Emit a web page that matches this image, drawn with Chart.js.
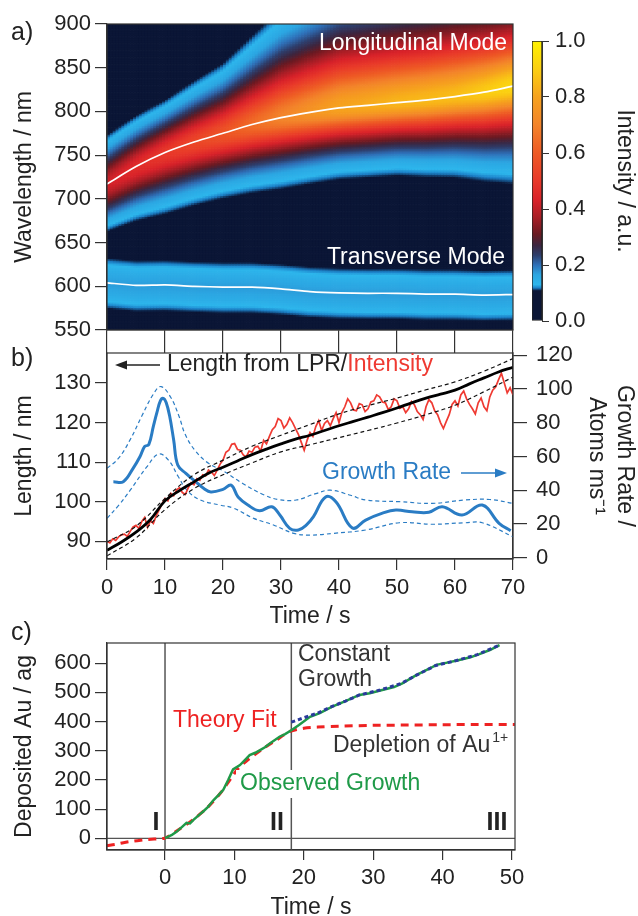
<!DOCTYPE html>
<html>
<head>
<meta charset="utf-8">
<script src="https://cdn.jsdelivr.net/npm/chart.js@4.4.1/dist/chart.umd.min.js"></script>
<style>
  body { margin: 0; background: #fff; width: 638px; height: 916px; overflow: hidden; position: relative; }
  canvas { position: absolute; left: 0; }
  .tag { position: absolute; left: 11px; font: 25px "Liberation Sans", Arial, sans-serif; color: #222; }
</style>
</head>
<body>
<canvas id="chartA" width="638" height="355" style="top:0"></canvas>
<canvas id="chartBar" width="638" height="355" style="top:0"></canvas>
<canvas id="chartB" width="638" height="300" style="top:330px"></canvas>
<canvas id="chartC" width="638" height="325" style="top:600px"></canvas>
<div class="tag" style="top:17px">a)</div>
<div class="tag" style="top:343px">b)</div>
<div class="tag" style="top:617px">c)</div>
<script>
// ---------- dados ----------
const timeTicks = [0, 10, 20, 30, 40, 50, 60, 70];
const wlTicks = [550, 600, 650, 700, 750, 800, 850, 900];
const intensityTicks = [0, 0.2, 0.4, 0.6, 0.8, 1.0];

// a) posição dos picos (linhas brancas), lida a cada 5 s
const peakTimes = [0, 5, 10, 15, 20, 25, 30, 35, 40, 45, 50, 55, 60, 65, 70];
const longPeak = [717, 737, 753, 765, 775, 785, 793, 799, 804, 807, 810, 813, 817, 822, 829];
const transPeak = [604, 601, 601.5, 600, 599, 599, 597, 594, 592.5, 592, 592, 591, 591, 590, 590.5];
// forma da banda longitudinal, lida a cada 10 s
const bandTimes = [0, 10, 20, 30, 40, 50, 60, 70];
const longAmp = [0.42, 0.5, 0.58, 0.7, 0.8, 0.84, 0.86, 0.92];
const longWidthLo = [31.6, 36.6, 35.3, 34.6, 32, 31.8, 34.9, 40.6];
const longWidthHi = [33.4, 31.9, 38.7, 53.5, 60, 60, 60, 54];
const transAmp = 0.17;
const transWidth = 38;

// b) comprimento pelo LPR (nm)
const lengthTimes = [0, 2.5, 5, 7.5, 10, 12.5, 15, 17.5, 20, 22.5, 25, 27.5, 30, 32.5, 35, 37.5, 40, 42.5, 45, 47.5, 50, 52.5, 55, 57.5, 60, 62.5, 65, 67.5, 70];
const lengthLPR = [87.7, 89.8, 92.3, 95.5, 100.2, 102.8, 105, 107.2, 108.7, 110.3, 111.9, 113.3, 114.6, 115.8, 116.8, 118, 119.2, 120.3, 121.4, 122.5, 123.7, 125, 126.2, 127.2, 128.2, 129.8, 131.3, 132.8, 134];
const boundTimes = [0, 5, 10, 15, 20, 25, 30, 35, 40, 45, 50, 55, 60, 65, 70];
const lengthUpper = [89.8, 93.8, 100.8, 106.8, 110.5, 114, 116.8, 119.5, 122.2, 124.3, 126.2, 128.3, 130.3, 133, 136.2];
const lengthLower = [86.3, 90.8, 98, 103.3, 106.8, 109.8, 112.6, 114.4, 116.2, 118, 119.9, 122, 124.4, 127.8, 131.5];
// comprimento pela intensidade, a cada 0,5 s
const intensityLength = [
  90, 89.6, 90.6, 90.2, 91.1, 91.6, 91.8, 91.2, 92.5, 93.6,
  94, 93.2, 95, 96, 93.5, 95.2, 94.5, 96.5, 98, 99.5,
  100.8, 100.2, 102.1, 101.5, 103, 103.5, 102.3, 101.8, 103.5, 104.8,
  104.3, 105.8, 105.4, 106.8, 106.5, 108, 107.5, 106.6, 108, 109.5,
  110.5, 112.5, 113, 114.5, 114.7, 113.2, 113, 111.8, 111.3, 112.8,
  112.5, 113.8, 114, 112.8, 115.5, 114.6, 116.5, 118.2, 119, 121,
  120.5, 118.6, 119.5, 121.2, 120, 118.5, 117, 115, 113, 115.5,
  117.5, 116.5, 119, 120.5, 118, 119.8, 120.5, 119.2, 121, 122.5,
  120, 122.6, 124, 126, 125, 123.2, 123, 124.8, 124.5, 122.8,
  123.5, 125.2, 125.5, 127, 126.5, 125.2, 125, 123.3, 124, 126,
  125.5, 123.6, 124, 122.5, 123.5, 125.3, 124.5, 122.8, 122, 120.8,
  124, 125.8, 125, 123, 122, 120, 118.5, 120.3, 122, 124.6,
  125.5, 124.2, 127, 128, 126, 124.6, 123.5, 122.2, 125, 126.2,
  124, 123, 126.5, 128.2, 129, 130.8, 132.5, 130, 127.5, 128.8, 127];
const intensityTimes = intensityLength.map((_, i) => i / 2);
// taxa de crescimento (átomos/ms)
const growthTimes = [1.1, 2.8, 4.5, 5.7, 6.5, 7.2, 8, 8.6, 9.2, 9.7, 10.2, 10.8, 11.5, 12.2, 13.6, 15.3, 16.7, 17.9, 20, 21.4, 22.6, 24.3, 26.3, 28.4, 29.8, 31.5, 33, 34.4, 35.6, 37.7, 39.5, 42.3, 44.6, 47.5, 49.8, 52.6, 55.5, 57.8, 61.2, 64.7, 67.6, 69.6];
const growthRate = [45, 45, 53, 60, 66, 67, 78, 86, 93, 94.5, 92, 84, 69.7, 54.9, 50, 45, 41, 39, 40.5, 43, 36, 31.2, 27.8, 30.2, 25.3, 17.4, 16.4, 19.4, 24.3, 36, 33, 17.6, 22.3, 26.4, 28.2, 27.2, 26.9, 30.2, 25.3, 31.2, 20.4, 16];
const growthUpTimes = [0, 2, 4, 6, 8, 9.3, 11, 12.4, 13.5, 15.2, 17.5, 20, 23.4, 26.9, 29.5, 32.6, 36, 38.5, 42, 44.6, 50.4, 56.1, 61.8, 66, 70];
const growthUpper = [53, 59, 70, 84, 97, 101.5, 95, 84, 73, 63.5, 56, 51.5, 44, 37.5, 34.5, 34.2, 38, 40, 37, 34.2, 33.2, 32.2, 34.2, 34.5, 32.2];
const growthLoTimes = [0, 2, 4, 6.9, 8.9, 10.6, 12.3, 13.8, 16.1, 19.5, 21.8, 25.3, 28.7, 32.2, 35, 39, 44.6, 50.4, 56.1, 61.8, 64.7, 70];
const growthLower = [23.3, 31, 40, 54, 61.4, 57.8, 48, 40, 34.2, 31.2, 29.4, 23.3, 19.4, 14.4, 13.4, 14.4, 16.4, 20.7, 19.8, 20.7, 20.7, 12.4];
const lengthTicks = [90, 100, 110, 120, 130];
const rateTicks = [0, 20, 40, 60, 80, 100, 120];

// c) ouro depositado (ag)
const obsTimes = [0, 1, 1.7, 2.5, 3.1, 3.6, 4.1, 5, 5.5, 6.2, 7, 7.7, 8.4, 9.1, 9.8, 10.8, 11.5, 12.2, 13, 13.7, 14.4, 15.1, 16.5, 17.3, 18.2, 19.3, 20.9, 22.3, 24.1, 26, 28, 29.5, 31.3, 33, 34.2, 36.2, 38, 39.1, 40.5, 42.4, 44, 45.3, 46.8, 48.2];
const obsGrowth = [1, 12, 23, 40, 53, 51, 63, 82, 92, 108, 131, 148, 166, 200, 236, 251, 268, 285, 293, 302, 312, 325, 348, 357, 370, 388, 416, 429, 451, 470, 491, 497, 508, 518, 531, 559, 580, 594, 601, 611, 620, 631, 645, 662];
const fitTimes = [-8.4, -7, -6, -5, -4, -3, -2, -1, 0, 2, 4, 6, 8, 9.5, 10.5, 12, 14, 16, 18, 20, 22, 25, 30, 35, 40, 45, 50.4];
const theoryFit = [-25, -20, -15, -11, -8, -5, -3, -1.5, 1, 30, 63, 103, 155, 205, 238, 270, 305, 336, 366, 377, 381, 384, 387, 388, 389, 390, 390];
const constTimes = [18.2, 20, 22, 24, 26, 28, 31, 34, 36, 39, 42, 45, 48.2];
const constGrowth = [398, 413, 429, 451, 470, 491, 508, 530, 556, 592, 609, 629, 662];
const phaseBounds = [0, 18.2];
const depTicks = [0, 100, 200, 300, 400, 500, 600];
const timeTicksC = [0, 10, 20, 30, 40, 50];

// ---------- aparência ----------
const FONT = '"Liberation Sans", Arial, sans-serif';
Chart.defaults.font.family = FONT;
Chart.defaults.font.size = 22;
Chart.defaults.color = '#222';

const AXIS = '#333';
const RED = '#ef3a32';
const BLUE = '#2a7cc4';
const GREEN = '#1f9a48';

const cmap = [
  [0, '#0b1636'], [0.108, '#0b1636'], [0.118, '#1c80c8'], [0.13, '#2db6ec'],
  [0.165, '#2ca6e2'], [0.2, '#2f70b8'], [0.235, '#2e3e6c'], [0.27, '#3c2640'],
  [0.31, '#6a1a22'], [0.37, '#a81e26'], [0.43, '#d8222a'], [0.5, '#e8382a'],
  [0.6, '#ee5a25'], [0.7, '#f3842a'], [0.8, '#f6a21e'], [0.9, '#fbcf12'], [1, '#fff200']
];
const cmapRgb = cmap.map(([v, h]) => [v, parseInt(h.slice(1, 3), 16), parseInt(h.slice(3, 5), 16), parseInt(h.slice(5, 7), 16)]);

function corDe(v) {
  v = Math.max(0, Math.min(1, v));
  for (let i = 1; i < cmapRgb.length; i++) {
    if (v <= cmapRgb[i][0]) {
      const a = cmapRgb[i - 1], b = cmapRgb[i];
      const f = (v - a[0]) / (b[0] - a[0] || 1);
      return `rgb(${Math.round(a[1] + f * (b[1] - a[1]))},${Math.round(a[2] + f * (b[2] - a[2]))},${Math.round(a[3] + f * (b[3] - a[3]))})`;
    }
  }
  return '#fff200';
}

function interp(xs, ys, x) {
  if (x <= xs[0]) return ys[0];
  for (let i = 1; i < xs.length; i++) {
    if (x <= xs[i]) {
      const f = (x - xs[i - 1]) / (xs[i] - xs[i - 1]);
      return ys[i - 1] + f * (ys[i] - ys[i - 1]);
    }
  }
  return ys[ys.length - 1];
}

function intensidade(t, wl) {
  const c = interp(peakTimes, longPeak, t);
  const g = wl < c ? interp(bandTimes, longWidthLo, t) : interp(bandTimes, longWidthHi, t);
  const d = (wl - c) / g;
  const iL = interp(bandTimes, longAmp, t) / (1 + d * d);
  const dt = (wl - interp(peakTimes, transPeak, t)) / transWidth;
  const iT = transAmp / (1 + dt * dt);
  return Math.max(iL, iT);
}

const pts = (xs, ys) => xs.map((x, i) => ({ x, y: ys[i] }));
const fixTicks = arr => s => { s.ticks = arr.map(v => ({ value: v })); };

// mapa de calor desenhado pelas escalas
const heatmapPlugin = {
  id: 'heatmap',
  beforeDatasetsDraw(chart) {
    const { ctx, chartArea: a, scales: { x, y } } = chart;
    ctx.save();
    ctx.beginPath();
    ctx.rect(a.left, a.top, a.width, a.height);
    ctx.clip();
    const dt = 0.5, dw = 2;
    for (let t = 0; t < 70; t += dt) {
      const x0 = x.getPixelForValue(t), x1 = x.getPixelForValue(t + dt);
      for (let w = 550; w < 900; w += dw) {
        const y0 = y.getPixelForValue(w), y1 = y.getPixelForValue(w + dw);
        ctx.fillStyle = corDe(intensidade(t + dt / 2, w + dw / 2));
        ctx.fillRect(x0, y1, x1 - x0 + 0.7, y0 - y1 + 0.7);
      }
    }
    ctx.restore();
  }
};

const framePlugin = {
  id: 'frame',
  afterDatasetsDraw(chart) {
    const { ctx, chartArea: a } = chart;
    ctx.save();
    ctx.strokeStyle = AXIS;
    ctx.lineWidth = 1.2;
    ctx.strokeRect(a.left, a.top, a.width, a.height);
    ctx.restore();
  }
};

function seta(ctx, x0, x1, y, cor) {
  const dir = x1 > x0 ? 1 : -1;
  ctx.strokeStyle = cor;
  ctx.fillStyle = cor;
  ctx.lineWidth = 1.6;
  ctx.beginPath();
  ctx.moveTo(x0, y);
  ctx.lineTo(x1 - dir * 8, y);
  ctx.stroke();
  ctx.beginPath();
  ctx.moveTo(x1, y);
  ctx.lineTo(x1 - dir * 12, y - 4.5);
  ctx.lineTo(x1 - dir * 12, y + 4.5);
  ctx.closePath();
  ctx.fill();
}

function texto(ctx, s, x, y, cor, opts = {}) {
  ctx.font = `${opts.bold ? 'bold ' : ''}${opts.size || 23}px ${FONT}`;
  ctx.fillStyle = cor;
  ctx.textAlign = opts.align || 'left';
  ctx.textBaseline = 'middle';
  ctx.fillText(s, x, y);
  return ctx.measureText(s).width;
}

const baseOpts = {
  responsive: false,
  animation: false,
  events: [],
  plugins: { legend: { display: false }, tooltip: { enabled: false } }
};

function eixoY(min, max, ticks, titulo, extra = {}) {
  return Object.assign({
    type: 'linear', min, max,
    afterBuildTicks: fixTicks(ticks),
    ticks: { padding: 4, color: '#222' },
    grid: { drawOnChartArea: false, tickLength: 12, color: AXIS, tickColor: AXIS, lineWidth: 1.2 },
    border: { color: AXIS, width: 1.2 },
    title: { display: true, text: titulo, font: { size: 23 }, color: '#222', padding: { top: 11, bottom: 0 } },
    afterFit: s => { s.width = 107; }
  }, extra);
}

// ---------- a) ----------
new Chart(document.getElementById('chartA'), {
  type: 'scatter',
  data: {
    datasets: [
      { data: pts(peakTimes, longPeak), showLine: true, borderColor: '#fff', borderWidth: 1.7, pointRadius: 0, tension: 0.3 },
      { data: pts(peakTimes, transPeak), showLine: true, borderColor: '#fff', borderWidth: 1.7, pointRadius: 0, tension: 0.2 }
    ]
  },
  options: Object.assign({}, baseOpts, {
    layout: { padding: { left: 0, top: 24, right: 125, bottom: 0 } },
    scales: {
      x: {
        type: 'linear', min: 0, max: 70,
        afterBuildTicks: fixTicks(timeTicks),
        ticks: { display: false },
        grid: { drawOnChartArea: false, tickLength: 23, color: AXIS, tickColor: AXIS, lineWidth: 1.2 },
        border: { color: AXIS, width: 1.2 },
        afterFit: s => { s.height = 25; }
      },
      y: eixoY(550, 900, wlTicks, 'Wavelength / nm')
    }
  }),
  plugins: [heatmapPlugin, framePlugin, {
    id: 'rotulosA',
    afterDraw(chart) {
      const ctx = chart.ctx;
      ctx.save();
      texto(ctx, 'Longitudinal Mode', 507, 44, '#fff', { align: 'right' });
      texto(ctx, 'Transverse Mode', 505, 258, '#fff', { align: 'right' });
      ctx.restore();
    }
  }]
});

// barra de cores
new Chart(document.getElementById('chartBar'), {
  type: 'bar',
  data: {
    labels: ['Intensity'],
    datasets: [{
      data: [[0, 1]],
      backgroundColor: c => {
        const a = c.chart.chartArea;
        if (!a) return '#0b1636';
        const g = c.chart.ctx.createLinearGradient(0, a.bottom, 0, a.top);
        cmap.forEach(([v, col]) => g.addColorStop(v, col));
        return g;
      },
      borderColor: '#222', borderWidth: 1, borderSkipped: false,
      barPercentage: 1, categoryPercentage: 1
    }]
  },
  options: Object.assign({}, baseOpts, {
    layout: { padding: { left: 532, top: 41, right: 0, bottom: 34 } },
    scales: {
      x: { display: false },
      y: {
        type: 'linear', position: 'right', min: 0, max: 1,
        afterBuildTicks: fixTicks(intensityTicks),
        ticks: { padding: 6, color: '#222', callback: v => v.toFixed(1) },
        grid: { drawOnChartArea: false, tickLength: 7, color: AXIS, tickColor: AXIS },
        border: { color: AXIS },
        title: { display: true, text: 'Intensity / a.u.', font: { size: 23 }, color: '#222', padding: { top: 0, bottom: 0 } },
        afterFit: s => { s.width = 96; }
      }
    }
  })
});

// ---------- b) ----------
const linha = (xs, ys, cor, w, eixo, extra = {}) => Object.assign({
  data: pts(xs, ys), showLine: true, borderColor: cor, borderWidth: w, pointRadius: 0, yAxisID: eixo
}, extra);

new Chart(document.getElementById('chartB'), {
  type: 'scatter',
  data: {
    datasets: [
      linha(lengthTimes, lengthLPR, '#000', 2.8, 'y', { tension: 0.4 }),
      linha(boundTimes, lengthUpper, '#111', 1.2, 'y', { borderDash: [4, 3], tension: 0.4 }),
      linha(boundTimes, lengthLower, '#111', 1.2, 'y', { borderDash: [4, 3], tension: 0.4 }),
      linha(intensityTimes, intensityLength, RED, 1.7, 'y'),
      linha(growthTimes, growthRate, BLUE, 3, 'y2', { tension: 0.4 }),
      linha(growthUpTimes, growthUpper, BLUE, 1.2, 'y2', { borderDash: [4, 3], tension: 0.4 }),
      linha(growthLoTimes, growthLower, BLUE, 1.2, 'y2', { borderDash: [4, 3], tension: 0.4 })
    ]
  },
  options: Object.assign({}, baseOpts, {
    layout: { padding: { left: 0, top: 23, right: 0, bottom: 0 } },
    scales: {
      x: {
        type: 'linear', min: 0, max: 70,
        afterBuildTicks: fixTicks(timeTicks),
        ticks: { padding: 5, color: '#222', maxRotation: 0 },
        grid: { drawOnChartArea: false, tickLength: 11, color: AXIS, tickColor: AXIS, lineWidth: 1.2 },
        border: { color: AXIS, width: 1.2 },
        title: { display: true, text: 'Time / s', font: { size: 23 }, color: '#222', padding: { top: 0, bottom: 0 } },
        afterFit: s => { s.height = 71; }
      },
      y: eixoY(85.5, 137.6, lengthTicks, 'Length / nm'),
      y2: {
        type: 'linear', position: 'right', min: -0.8, max: 121.4,
        afterBuildTicks: fixTicks(rateTicks),
        ticks: { padding: 9, color: '#222' },
        grid: { drawOnChartArea: false, tickLength: 14, color: AXIS, tickColor: AXIS, lineWidth: 1.2 },
        border: { color: AXIS, width: 1.2 },
        title: { display: true, text: ['Growth Rate /', 'Atoms ms\u207B\u00B9'], font: { size: 23 }, color: '#222', padding: { top: 0, bottom: 0 } },
        afterFit: s => { s.width = 125; }
      }
    }
  }),
  plugins: [framePlugin, {
    id: 'rotulosB',
    afterDraw(chart) {
      const ctx = chart.ctx;
      ctx.save();
      seta(ctx, 160, 115, 35, '#222');
      const w = texto(ctx, 'Length from LPR/', 167, 35, '#222');
      texto(ctx, 'Intensity', 167 + w, 35, RED);
      texto(ctx, 'Growth Rate', 322, 143, BLUE);
      seta(ctx, 461, 507, 143, BLUE);
      ctx.restore();
    }
  }]
});

// ---------- c) ----------
new Chart(document.getElementById('chartC'), {
  type: 'scatter',
  data: {
    datasets: [
      linha(constTimes, constGrowth, '#2b3a9c', 3, 'y', { borderDash: [4, 3] }),
      linha(obsTimes, obsGrowth, GREEN, 2.5, 'y'),
      linha(fitTimes, theoryFit, '#ee2222', 3, 'y', { borderDash: [8, 6], tension: 0.3 }),
      linha([-8.36, 50.43], [0, 0], '#555', 1.2, 'y'),
      linha([phaseBounds[0], phaseBounds[0]], [-40, 669], '#555', 1.5, 'y'),
      linha([phaseBounds[1], phaseBounds[1]], [-40, 669], '#555', 1.5, 'y')
    ]
  },
  options: Object.assign({}, baseOpts, {
    layout: { padding: { left: 0, top: 43, right: 123, bottom: 0 } },
    scales: {
      x: {
        type: 'linear', min: -8.36, max: 50.43,
        afterBuildTicks: fixTicks(timeTicksC),
        ticks: { padding: 5, color: '#222', maxRotation: 0 },
        grid: { drawOnChartArea: false, tickLength: 10, color: AXIS, tickColor: AXIS, lineWidth: 1.2 },
        border: { color: AXIS, width: 1.2 },
        title: { display: true, text: 'Time / s', font: { size: 23 }, color: '#222', padding: { top: 0, bottom: 4 } },
        afterFit: s => { s.height = 75; }
      },
      y: eixoY(-40, 669, depTicks, 'Deposited Au / ag')
    }
  }),
  plugins: [framePlugin, {
    id: 'rotulosC',
    afterDraw(chart) {
      const ctx = chart.ctx;
      ctx.save();
      texto(ctx, 'Constant', 298, 55, '#333');
      texto(ctx, 'Growth', 298, 80, '#333');
      texto(ctx, 'Theory Fit', 173, 121, '#ee2222');
      const w = texto(ctx, 'Depletion of Au', 333, 146, '#333');
      texto(ctx, '1+', 335 + w, 138, '#333', { size: 14 });
      ctx.fillStyle = '#fff';
      ctx.fillRect(236, 170, 196, 28);
      texto(ctx, 'Observed Growth', 240, 184, GREEN);
      texto(ctx, 'I', 156, 223, '#222', { bold: true, size: 25, align: 'center' });
      texto(ctx, 'II', 277, 223, '#222', { bold: true, size: 25, align: 'center' });
      texto(ctx, 'III', 497, 223, '#222', { bold: true, size: 25, align: 'center' });
      ctx.restore();
    }
  }]
});
</script>
</body>
</html>
